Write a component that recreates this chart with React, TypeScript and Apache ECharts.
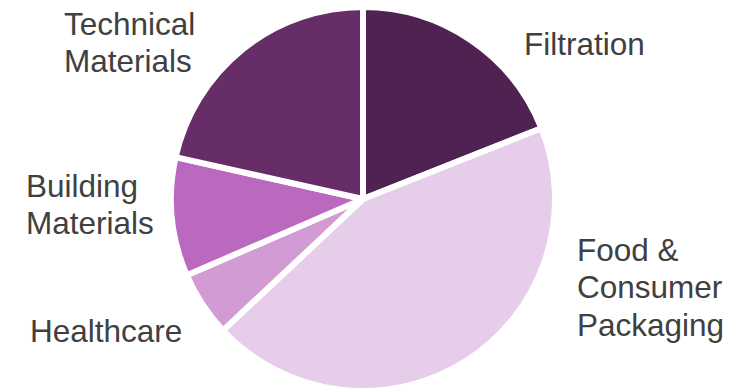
import React, { useEffect, useRef } from "react";
import * as echarts from "echarts";

const categories = [
  "Filtration",
  "Food & Consumer Packaging",
  "Healthcare",
  "Building Materials",
  "Technical Materials",
];
const labelTexts = [
  "Filtration",
  "Food &\nConsumer\nPackaging",
  "Healthcare",
  "Building\nMaterials",
  "Technical\nMaterials",
];
const shares = [19, 44, 5.5, 10, 21.5];
const colors = ["#4F2251", "#E6CDE9", "#D39BD4", "#BB69BE", "#672D69"];

// label anchor positions (top-left of each label block), in px
const labelPos = [
  [524, 25],
  [577, 231],
  [30, 312],
  [26, 167],
  [64, 5],
];

export default function App() {
  const ref = useRef<HTMLDivElement>(null);
  useEffect(() => {
    document.body.style.margin = "0";
    const chart = echarts.init(ref.current!, null, { renderer: "svg" });
    chart.setOption({
      animation: false,
      backgroundColor: "#ffffff",
      series: [
        {
          type: "pie",
          center: [363, 199],
          radius: [0, 192],
          startAngle: 90,
          clockwise: true,
          avoidLabelOverlap: false,
          silent: true,
          itemStyle: { borderColor: "#ffffff", borderWidth: 6 },
          label: {
            show: true,
            position: "outside",
            color: "#404040",
            fontFamily: "'Liberation Sans', Arial, sans-serif",
            fontSize: 31.5,
            lineHeight: 37.5,
            formatter: (p: any) => labelTexts[p.dataIndex],
          },
          labelLine: { show: false },
          labelLayout: (p: any) => ({
            x: labelPos[p.dataIndex][0],
            y: labelPos[p.dataIndex][1],
            align: "left",
            verticalAlign: "top",
          }),
          data: categories.map((name, i) => ({
            name,
            value: shares[i],
            itemStyle: { color: colors[i] },
          })),
        },
      ],
    });
    return () => chart.dispose();
  }, []);
  return <div ref={ref} style={{ width: 752, height: 392 }} />;
}
